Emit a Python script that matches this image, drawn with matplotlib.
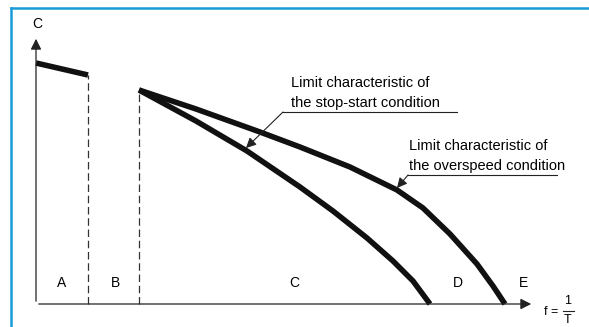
import matplotlib.pyplot as plt

# data units: f along x, C along y (origin at the axes corner)
seg_a_f = [0, 52]
seg_a_c = [241, 229]

zone_b_f = 52     # dashed boundary A|B
zone_c_f = 103    # dashed boundary B|C

stop_f = [103, 160, 211, 264, 297, 331, 357, 377, 394]
stop_c = [214, 183, 153, 117, 93, 66, 43, 23, 0]

over_f = [103, 160, 224, 264, 314, 361, 387, 414, 441, 457, 469]
over_c = [214, 195, 172, 157, 137, 114, 96, 70, 40, 18, 0]

zone_labels = ["A", "B", "C", "D", "E"]
zone_label_f = [26, 79, 258, 422, 487]

axis_f_max = 498
axis_c_max = 268

plt.rcParams['font.family'] = ['Liberation Sans', 'DejaVu Sans']

fig = plt.figure(figsize=(5.89, 3.27), dpi=100)
ax = fig.add_axes([0, 0, 1, 1])
ax.set_xlim(-36, 553)
ax.set_ylim(-23, 304)
ax.axis("off")

# blue frame on top and left
blue = "#1a9ad6"
fig.add_artist(plt.Line2D([11 / 589, 1], [1 - 8 / 327, 1 - 8 / 327], color=blue, lw=1.8))
fig.add_artist(plt.Line2D([11 / 589, 11 / 589], [0, 1 - 8 / 327], color=blue, lw=1.8))

# axes with arrows
ax.annotate("", xy=(axis_f_max, 0), xytext=(0, 0),
            arrowprops=dict(arrowstyle="-|>", color="#222222", lw=0.9, mutation_scale=16))
ax.annotate("", xy=(0, axis_c_max), xytext=(0, 0),
            arrowprops=dict(arrowstyle="-|>", color="#222222", lw=0.9, mutation_scale=16))
ax.text(1, 280, "C", ha="center", va="center", fontsize=10)

# f = 1/T label
ax.text(508, -8, "f =", ha="left", va="center", fontsize=9)
ax.text(532, 3, "1", ha="center", va="center", fontsize=9)
ax.plot([527, 538], [-7, -7], color="#222222", lw=0.8)
ax.text(532, -16, "T", ha="center", va="center", fontsize=9)

# dashed zone boundaries
ax.plot([zone_b_f, zone_b_f], [0, seg_a_c[1]], color="#333333", lw=0.9, ls=(0, (6, 3)))
ax.plot([zone_c_f, zone_c_f], [0, stop_c[0]], color="#333333", lw=0.9, ls=(0, (6, 3)))

# thick curves
ax.plot(seg_a_f, seg_a_c, color="#111111", lw=4, solid_capstyle="butt")
ax.plot(stop_f, stop_c, color="#111111", lw=4, solid_capstyle="butt", solid_joinstyle="round")
ax.plot(over_f, over_c, color="#111111", lw=4, solid_capstyle="butt", solid_joinstyle="round")

for lab, f in zip(zone_labels, zone_label_f):
    ax.text(f, 21, lab, ha="center", va="center", fontsize=10)

# annotations
ax.text(255, 211, "Limit characteristic of\nthe stop-start condition",
        ha="left", va="center", fontsize=10.5, linespacing=1.5)
ax.plot([247, 421], [192, 192], color="#222222", lw=0.8)
ax.annotate("", xy=(210, 156), xytext=(247, 192),
            arrowprops=dict(arrowstyle="-|>", color="#222222", lw=0.8, mutation_scale=15,
                            shrinkA=0, shrinkB=0))

ax.text(373, 148, "Limit characteristic of\nthe overspeed condition",
        ha="left", va="center", fontsize=10.5, linespacing=1.5)
ax.plot([372, 521], [129, 129], color="#222222", lw=0.8)
ax.annotate("", xy=(361, 116), xytext=(372, 129),
            arrowprops=dict(arrowstyle="-|>", color="#222222", lw=0.8, mutation_scale=15,
                            shrinkA=0, shrinkB=0))

fig.savefig("out.png", dpi=100)
